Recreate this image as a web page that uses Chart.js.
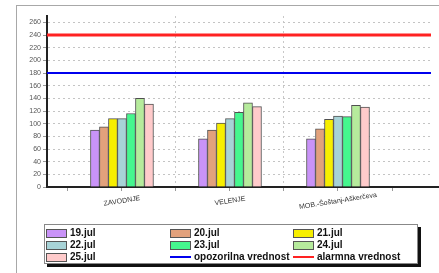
<!DOCTYPE html>
<html>
<head>
<meta charset="utf-8">
<script src="https://cdn.jsdelivr.net/npm/chart.js@4"></script>
<style>
  body { margin: 0; background: #fff; font-family: "Liberation Sans", Arial, sans-serif; }
  #wrap { position: relative; width: 439px; height: 273px; overflow: hidden; }
  #frame { position: absolute; left: 16px; top: 5px; width: 460px; height: 300px; border: 1px solid #a8a8a8; }
  #chart { position: absolute; left: 0; top: 0; }
  #legend { position: absolute; left: 44px; top: 224px; width: 372px; height: 38px; border: 1px solid #888;
            background: #fff; box-shadow: 3px 3px 0 #111; }
  .item { position: absolute; height: 10px; font-size: 10px; font-weight: bold; color: #111; line-height: 10px; white-space: nowrap; }
  .sw { position: absolute; left: 0; top: 1px; width: 19px; height: 7px; border: 1px solid #555; }
  .ln { position: absolute; left: 0; top: 4px; width: 21px; height: 2px; }
  .item span { position: absolute; left: 24px; top: 0; }
</style>
</head>
<body>
<div id="wrap">
  <div id="frame"></div>
  <canvas id="chart" width="439" height="273"></canvas>
  <div id="legend"></div>
</div>
<script>
// podatki
const categories = ['ZAVODNJE', 'VELENJE', 'MOB.-Šoštanj-Aškerčeva'];
const days = ['19.jul', '20.jul', '21.jul', '22.jul', '23.jul', '24.jul', '25.jul'];
const dayColors = ['#c993f8', '#e2a17c', '#f7ef00', '#a7d3d7', '#45f78e', '#b6eb9c', '#ffcbcb'];
const v19 = [90, 76, 76];
const v20 = [95, 90, 92];
const v21 = [108, 101, 107];
const v22 = [108, 108, 112];
const v23 = [116, 118, 111];
const v24 = [140, 133, 129];
const v25 = [131, 127, 126];
const warningLabel = 'opozorilna vrednost';
const warningValue = 180;
const alarmLabel = 'alarmna vrednost';
const alarmValue = 240;
const yTicksMax = 260;

// meje osi x (v enotah kategorij)
const xMin = -0.694;
const xMax = 2.861;

const series = [v19, v20, v21, v22, v23, v24, v25];

const datasets = series.map(function(vals, d) {
    return {
        type: 'bar',
        label: days[d],
        data: vals.map((v, i) => ({ x: i, y: v })),
        backgroundColor: dayColors[d],
        borderColor: '#505050',
        borderWidth: 1,
        barThickness: 9,
        order: 2
    };
});

datasets.push({
    type: 'line', label: warningLabel,
    data: [{ x: xMin, y: warningValue }, { x: xMax, y: warningValue }],
    borderColor: '#0000ee', borderWidth: 2, pointRadius: 0, order: 1
});
datasets.push({
    type: 'line', label: alarmLabel,
    data: [{ x: xMin, y: alarmValue }, { x: xMax, y: alarmValue }],
    borderColor: '#ff2222', borderWidth: 3, pointRadius: 0, order: 1
});

// oznake kategorij (nagnjene, centrirane pod kljukico)
const catLabels = {
    id: 'catLabels',
    afterDraw(chart) {
        const ctx = chart.ctx;
        const sx = chart.scales.x;
        const area = chart.chartArea;
        ctx.save();
        // podaljšek osi x do roba
        ctx.strokeStyle = '#222';
        ctx.lineWidth = 2;
        ctx.beginPath();
        ctx.moveTo(area.right, area.bottom);
        ctx.lineTo(chart.width, area.bottom);
        ctx.stroke();
        ctx.font = '7px "Liberation Sans", Arial, sans-serif';
        ctx.fillStyle = '#333';
        ctx.textAlign = 'center';
        ctx.textBaseline = 'middle';
        categories.forEach(function(c, i) {
            ctx.save();
            ctx.translate(sx.getPixelForValue(i), area.bottom + 14);
            ctx.rotate(-9 * Math.PI / 180);
            ctx.fillText(c, 0, 0);
            ctx.restore();
        });
        ctx.restore();
    }
};

const ctx = document.getElementById('chart').getContext('2d');
const chart = new Chart(ctx, {
    data: { datasets: datasets },
    options: {
        responsive: false,
        animation: false,
        layout: { padding: { left: 0, top: 16, right: 8, bottom: 0 } },
        plugins: { legend: { display: false }, tooltip: { enabled: false } },
        scales: {
            x: {
                type: 'linear',
                offset: false,
                bounds: 'data',
                min: xMin,
                max: xMax,
                afterBuildTicks: function(scale) {
                    const t = [];
                    for (let i = 0; i <= categories.length * 2; i++) t.push({ value: i / 2 - 0.5 });
                    scale.ticks = t;
                },
                afterFit: function(scale) { scale.height = 86; },
                ticks: { display: false },
                grid: {
                    offset: false,
                    color: function(c) {
                        const v = c.tick ? c.tick.value : null;
                        return (v > 0 && v < categories.length - 1 && v % 1 !== 0) ? '#c8c8c8' : 'rgba(0,0,0,0)';
                    },
                    tickColor: '#999',
                    tickLength: 4,
                    lineWidth: 1
                },
                border: { color: '#222', width: 2, dash: [2, 3] }
            },
            y: {
                min: 0,
                max: 270,
                afterFit: function(scale) { scale.width = 47; },
                afterBuildTicks: function(scale) {
                    scale.ticks = scale.ticks.filter(t => t.value <= yTicksMax);
                },
                ticks: {
                    stepSize: 20,
                    includeBounds: false,
                    padding: 2,
                    color: '#555',
                    font: { family: '"Liberation Sans", Arial, sans-serif', size: 7 }
                },
                grid: { color: '#c4c4c4', tickColor: '#999', tickLength: 4, lineWidth: 1 },
                border: { color: '#222', width: 2, dash: [2, 3] }
            }
        }
    },
    plugins: [catLabels]
});

// legenda
const legend = document.getElementById('legend');
const colX = [1, 125, 248];
const rowY = [3, 15, 27];
chart.data.datasets.forEach(function(ds, i) {
    const item = document.createElement('div');
    item.className = 'item';
    item.style.left = colX[i % 3] + 'px';
    item.style.top = rowY[Math.floor(i / 3)] + 'px';
    const mark = document.createElement('div');
    if (ds.type === 'line') {
        mark.className = 'ln';
        mark.style.background = ds.borderColor;
    } else {
        mark.className = 'sw';
        mark.style.background = ds.backgroundColor;
    }
    const txt = document.createElement('span');
    txt.textContent = ds.label;
    item.appendChild(mark);
    item.appendChild(txt);
    legend.appendChild(item);
});
</script>
</body>
</html>
